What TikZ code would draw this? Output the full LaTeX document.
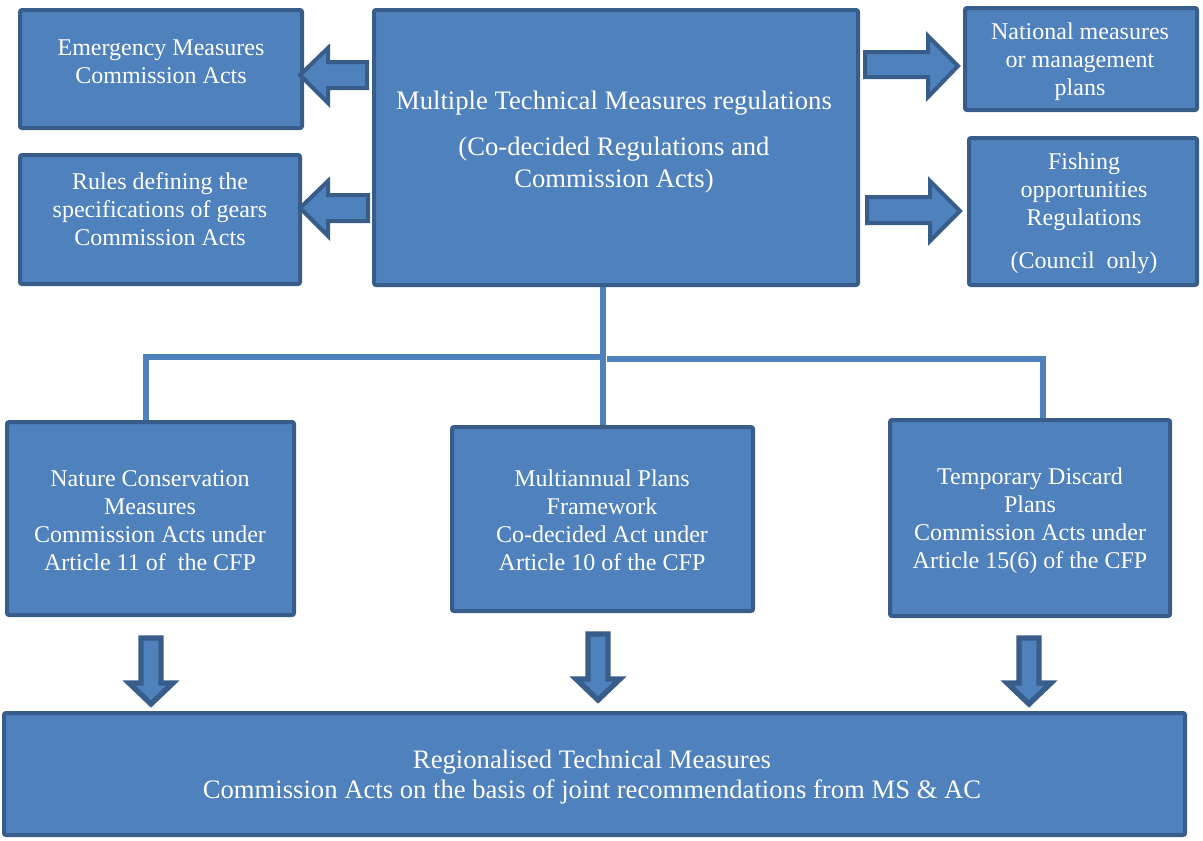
\documentclass[tikz,border=0pt]{standalone}
\usepackage{fontspec}
\setmainfont{Liberation Serif}
\definecolor{boxfill}{HTML}{4F81BD}
\definecolor{boxline}{HTML}{385D8A}
\begin{document}
\begin{tikzpicture}[x=0.75pt,y=-0.75pt,
  box/.style={draw=boxline, fill=boxfill, line width=3pt, rounded corners=1.5pt, inner sep=0pt},
  lbl/.style={text=white, align=center, font=\fontsize{18}{21}\selectfont, inner sep=0pt},
  conn/.style={draw=boxfill, line width=4.5pt},
  barrow/.style={draw=boxline, fill=boxfill, line width=3pt, line join=miter}]
\useasboundingbox (0,0) rectangle (1203,840);

% boxes
\node[box, minimum width=211.5pt, minimum height=88.5pt] (emerg) at (161,69) {};
\node[box, minimum width=210pt, minimum height=96.75pt] (rules) at (160,219.5) {};
\node[box, minimum width=363pt, minimum height=206.25pt] (central) at (616,147.5) {};
\node[box, minimum width=174pt, minimum height=76.5pt] (national) at (1081,59) {};
\node[box, minimum width=171pt, minimum height=110.25pt] (fishing) at (1083,211.5) {};
\node[box, minimum width=215.25pt, minimum height=144.75pt] (nature) at (150.5,518.5) {};
\node[box, minimum width=225.75pt, minimum height=138pt] (multi) at (602.5,519) {};
\node[box, minimum width=210pt, minimum height=147pt] (temp) at (1030,518) {};
\node[box, minimum width=885.75pt, minimum height=91.5pt] (bottom) at (594.5,774) {};

% labels
\node[lbl] (emergT) at (161,62) {Emergency Measures\\Commission Acts};
\node[lbl] (rulesT) at (160,209) {Rules defining the\\specifications of gears\\Commission Acts};
\node[lbl, font=\fontsize{20}{24}\selectfont] (centralT) at (614,142) {Multiple Technical Measures regulations\\[11pt](Co-decided Regulations and\\Commission Acts)};
\node[lbl] (nationalT) at (1080,62) {National measures\\or management\\plans};
\node[lbl] (fishingT) at (1084,213) {Fishing\\opportunities\\Regulations\\[11pt](Council\ \ only)};
\node[lbl] (natureT) at (150,520.5) {Nature Conservation\\Measures\\Commission Acts under\\Article 11 of\ \ the CFP};
\node[lbl] (multiT) at (602,520.5) {Multiannual Plans\\Framework\\Co-decided Act under\\Article 10 of the CFP};
\node[lbl] (tempT) at (1030,520.5) {Temporary Discard\\Plans\\Commission Acts under\\Article 15(6) of the CFP};
\node[lbl, font=\fontsize{20}{23}\selectfont] (bottomT) at (592,777) {Regionalised Technical Measures\\Commission Acts on the basis of joint recommendations from MS \& AC};

% tree connectors
\coordinate (jL) at (146,357);
\coordinate (jM) at (602,357);
\coordinate (jR) at (1043,359);
\draw[conn] (central.south -| multi.north) -- (multi.north);
\draw[conn] (nature.north -| jL) -- (jL) -- ([xshift=1.5pt]jM);
\draw[conn] ([xshift=4pt]jM |- jR) -- (jR) -- (temp.north -| jR);

% block arrows left
\draw[barrow] (367,62) -- (328,62) -- (328,48) -- (300,75) -- (328,103) -- (328,88) -- (367,88) -- cycle;
\draw[barrow] (368,195) -- (328,195) -- (328,181) -- (300,208) -- (328,236) -- (328,221) -- (368,221) -- cycle;
% block arrows right
\draw[barrow] (865,52) -- (928,52) -- (928,36) -- (958,66) -- (928,97) -- (928,77) -- (865,77) -- cycle;
\draw[barrow] (867,197) -- (930,197) -- (930,181) -- (960,211) -- (930,241) -- (930,223) -- (867,223) -- cycle;
% block arrows down
\foreach \cx/\dy in {151/0, 598/-4, 1029/0}{
  \draw[barrow, line width=4pt] (\cx-10,638+\dy) -- (\cx+10,638+\dy) -- (\cx+10,683+\dy) -- (\cx+22,683+\dy) -- (\cx,704+\dy) -- (\cx-22,683+\dy) -- (\cx-10,683+\dy) -- cycle;
}
\end{tikzpicture}
\end{document}
